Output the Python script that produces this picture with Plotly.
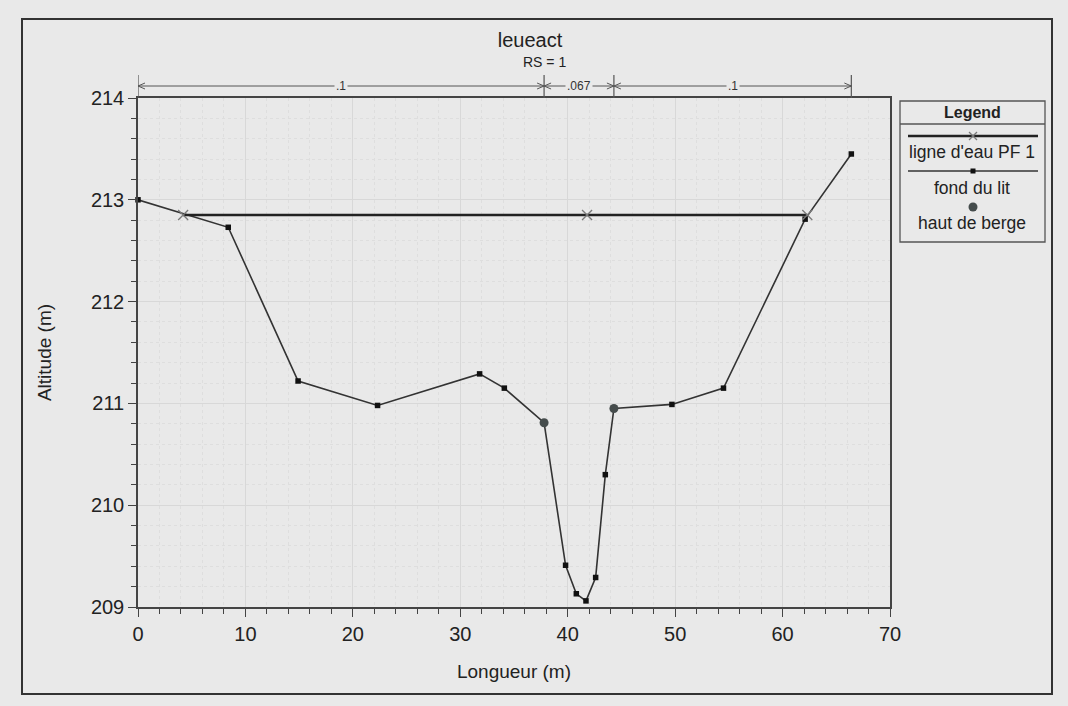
import plotly.graph_objects as go

# ---------------- data ----------------
bed_x = [0, 8.4, 14.9, 22.3, 31.8, 34.1, 37.8, 39.8, 40.8, 41.7, 42.6, 43.5, 44.3, 49.7, 54.5, 62.1, 66.4]
bed_y = [213.0, 212.73, 211.22, 210.98, 211.29, 211.15, 210.81, 209.41, 209.13, 209.06, 209.29,
         210.30, 210.95, 210.99, 211.15, 212.81, 213.45]
bank_x = [37.8, 44.3]
bank_y = [210.81, 210.95]
ws_x = [4.2, 41.8, 62.3]
ws_y = [212.85, 212.85, 212.85]
n_bounds = [0, 37.8, 44.3, 66.4]
n_values = [".1", ".067", ".1"]
chart_title = "leueact"
chart_subtitle = "RS = 1"
legend_title = "Legend"
legend_labels = ["ligne d'eau PF 1", "fond du lit", "haut de berge"]

# ---------------- layout geometry ----------------
W, H = 1068, 706
L, R, T, B = 138, 890, 98, 607
BG = "#e9e9e9"
INK = "#222222"
FONT = "Liberation Sans, Arial, sans-serif"


def px(xp):
    return (xp - L) / (R - L)


def py(yp):
    return (B - yp) / (B - T)


fig = go.Figure()

fig.add_trace(go.Scatter(
    x=bed_x, y=bed_y, mode="lines+markers", name=legend_labels[1],
    line=dict(color="#333333", width=1.6),
    marker=dict(symbol="square", size=5.5, color="#111111"),
    showlegend=False, cliponaxis=False))

fig.add_trace(go.Scatter(
    x=bank_x, y=bank_y, mode="markers", name=legend_labels[2],
    marker=dict(symbol="circle", size=9, color="#454c4c"),
    showlegend=False, cliponaxis=False))

fig.add_trace(go.Scatter(
    x=ws_x, y=ws_y, mode="lines+markers", name=legend_labels[0],
    line=dict(color="#222222", width=2.6),
    marker=dict(symbol="x-thin-open", size=10, color="#7a7a7a", line=dict(width=1.3, color="#7a7a7a")),
    showlegend=False, cliponaxis=False))

shapes = []
# outer frame
shapes.append(dict(type="rect", xref="paper", yref="paper",
                   x0=px(22), x1=px(1052), y0=py(694), y1=py(19),
                   line=dict(color="#333333", width=2)))

# bank-station boundary ticks above plot (and y-axis extension)
for b in n_bounds:
    shapes.append(dict(type="line", xref="x", yref="paper", x0=b, x1=b,
                       y0=1, y1=py(75), line=dict(color="#555555", width=1.2)))

# dimension lines with arrowheads
dim_y = py(86)
for i in range(len(n_values)):
    a, b = n_bounds[i], n_bounds[i + 1]
    shapes.append(dict(type="line", xref="x", yref="paper", x0=a, x1=b, y0=dim_y, y1=dim_y,
                       line=dict(color="#555555", width=1)))
    for anchor, sgn in ((a, 1), (b, -1)):
        for dy in (3, -3):
            shapes.append(dict(type="line", xref="x", yref="paper",
                               xsizemode="pixel", xanchor=anchor,
                               ysizemode="pixel", yanchor=dim_y,
                               x0=0, x1=7 * sgn, y0=0, y1=dy,
                               line=dict(color="#555555", width=1)))

# legend box
shapes.append(dict(type="rect", xref="paper", yref="paper",
                   x0=px(900), x1=px(1045), y0=py(242), y1=py(101),
                   line=dict(color="#555555", width=1.3)))
shapes.append(dict(type="line", xref="paper", yref="paper",
                   x0=px(900), x1=px(1045), y0=py(124), y1=py(124),
                   line=dict(color="#555555", width=1.3)))
# legend line 1 (water surface)
shapes.append(dict(type="line", xref="paper", yref="paper",
                   x0=px(908), x1=px(1038), y0=py(136), y1=py(136),
                   line=dict(color="#222222", width=2.6)))
for dx in (-4, 4):
    shapes.append(dict(type="line", xref="paper", yref="paper",
                       xsizemode="pixel", xanchor=px(973),
                       ysizemode="pixel", yanchor=py(136),
                       x0=-dx, x1=dx, y0=-4, y1=4,
                       line=dict(color="#7a7a7a", width=1.2)))
# legend line 2 (bed)
shapes.append(dict(type="line", xref="paper", yref="paper",
                   x0=px(908), x1=px(1038), y0=py(171), y1=py(171),
                   line=dict(color="#333333", width=1.6)))
shapes.append(dict(type="rect", xref="paper", yref="paper",
                   xsizemode="pixel", xanchor=px(973),
                   ysizemode="pixel", yanchor=py(171),
                   x0=-2.5, x1=2.5, y0=-2.5, y1=2.5,
                   fillcolor="#111111", line=dict(width=0)))
# legend dot (bank)
shapes.append(dict(type="circle", xref="paper", yref="paper",
                   xsizemode="pixel", xanchor=px(973),
                   ysizemode="pixel", yanchor=py(207),
                   x0=-4.5, x1=4.5, y0=-4.5, y1=4.5,
                   fillcolor="#454c4c", line=dict(width=0)))

annotations = []
# n-value labels
for i, v in enumerate(n_values):
    mid = (n_bounds[i] + n_bounds[i + 1]) / 2
    annotations.append(dict(x=mid, y=dim_y, xref="x", yref="paper", text=v, showarrow=False,
                            font=dict(family=FONT, size=12, color="#333333"),
                            bgcolor=BG, borderpad=1, xanchor="center", yanchor="middle"))
# subtitle
annotations.append(dict(x=px(544), y=py(62), xref="paper", yref="paper", text=chart_subtitle,
                        showarrow=False, font=dict(family=FONT, size=14, color=INK),
                        xanchor="center", yanchor="middle"))
# legend texts
annotations.append(dict(x=px(972), y=py(112), xref="paper", yref="paper", text="<b>" + legend_title + "</b>",
                        showarrow=False, font=dict(family=FONT, size=16, color=INK),
                        xanchor="center", yanchor="middle"))
for lbl, yy in zip(legend_labels, (152, 188, 223)):
    annotations.append(dict(x=px(972), y=py(yy), xref="paper", yref="paper", text=lbl,
                            showarrow=False, font=dict(family=FONT, size=17.5, color=INK),
                            xanchor="center", yanchor="middle"))

axis_common = dict(
    showline=True, linecolor="#444444", linewidth=1.5, mirror=True,
    ticks="outside", ticklen=8, tickwidth=1.2, tickcolor="#444444",
    tickfont=dict(family=FONT, size=20, color=INK),
    showgrid=True, gridcolor="#d8d8d8", gridwidth=1,
    zeroline=False,
)

fig.update_layout(
    width=W, height=H,
    margin=dict(l=L, r=W - R, t=T, b=H - B),
    paper_bgcolor=BG, plot_bgcolor=BG,
    font=dict(family=FONT, color=INK),
    title=dict(text=chart_title, x=530 / W, xanchor="center", xref="container",
               y=1 - 40 / H, yref="container", yanchor="middle",
               font=dict(family=FONT, size=20, color=INK)),
    xaxis=dict(range=[0, 70], dtick=10, tick0=0,
               title=dict(text="Longueur (m)", font=dict(family=FONT, size=19, color=INK), standoff=21),
               minor=dict(dtick=2, ticks="outside", ticklen=5, tickcolor="#444444",
                          showgrid=True, gridcolor="#dedede", griddash="dot"),
               **axis_common),
    yaxis=dict(range=[209, 214], dtick=1, tick0=209,
               title=dict(text="Altitude (m)", font=dict(family=FONT, size=19, color=INK), standoff=34),
               minor=dict(dtick=0.2, ticks="outside", ticklen=5, tickcolor="#444444",
                          showgrid=True, gridcolor="#dedede", griddash="dot"),
               **axis_common),
    shapes=shapes,
    annotations=annotations,
    showlegend=False,
)

fig.write_html(
    "out.html",
    config={"displayModeBar": False},
    post_script="document.body.style.margin='0';document.body.style.background='" + BG + "';",
)
